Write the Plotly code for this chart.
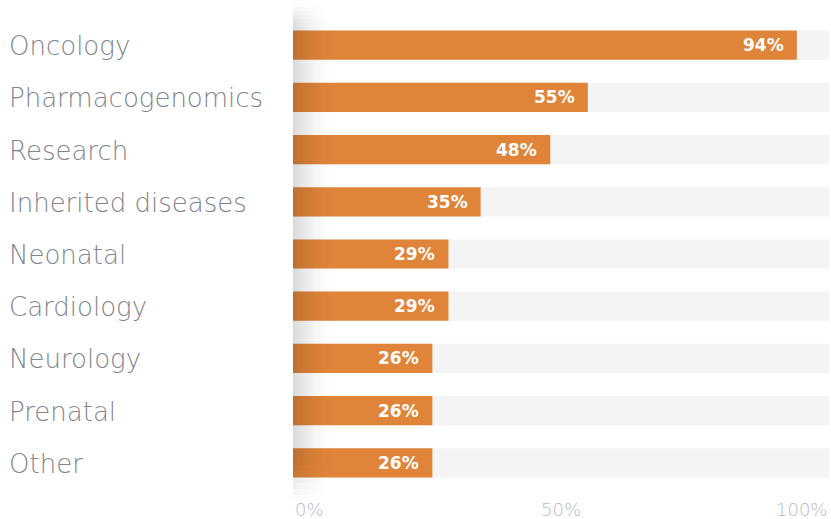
import plotly.graph_objects as go

categories = ["Oncology", "Pharmacogenomics", "Research", "Inherited diseases",
              "Neonatal", "Cardiology", "Neurology", "Prenatal", "Other"]
values = [94, 55, 48, 35, 29, 29, 26, 26, 26]
tick_vals = [0, 50, 100]
tick_text = ["0%", "50%", "100%"]

W, H = 831, 519
x0px, x1px = 293, 829
top_m, bot_m = 19, 30
plot_h = H - top_m - bot_m
bar_color = "#e0843a"
bg_color = "#f4f4f4"
label_color = "#82858e"

fig = go.Figure()
fig.add_trace(go.Bar(y=categories, x=[100] * len(categories), orientation="h",
                     marker=dict(color=bg_color, line_width=0), width=0.56,
                     hoverinfo="skip"))
fig.add_trace(go.Bar(y=categories, x=values, orientation="h",
                     marker=dict(color=bar_color, line_width=0), width=0.56))

ann = []
for c, v in zip(categories, values):
    ann.append(dict(x=v, y=c, xref="x", yref="y", text=f"{v}%", showarrow=False,
                    xanchor="right", xshift=-11,
                    font=dict(family="DejaVu Sans", size=17, color="white", weight="bold")))
    ann.append(dict(x=7 / W, y=c, xref="paper", yref="y", text=c, showarrow=False,
                    xanchor="left", yshift=-1,
                    font=dict(family="DejaVu Sans", size=26, color=label_color, weight=200)))
anchors = {0: "left", 50: "center", 100: "right"}
for tv, tt in zip(tick_vals, tick_text):
    ann.append(dict(x=tv, y=0, xref="x", yref="paper", text=tt, showarrow=False,
                    xanchor=anchors[tv], yanchor="middle", yshift=-20, height=18,
                    font=dict(family="DejaVu Sans", size=18, color="#b9bac0", weight=200)))

# left shadow gradient (x fade to right, y fade at top/bottom)
def py2paper(py):
    return (H - bot_m - py) / plot_h

px_per_unit = (x1px - x0px) / 100.0
shadow_w = 40
nx = 16
y_edges = [3, 7, 11, 15, 19, 23, 27, 465, 471, 477, 483, 489, 495, 501]
def yfac(ym):
    if ym < 27:
        return max(0.0, (ym - 3) / 24)
    if ym > 465:
        return max(0.0, (501 - ym) / 36)
    return 1.0

shapes = []
for i in range(nx):
    xa = i * shadow_w / nx
    xb = (i + 1) * shadow_w / nx
    xm = (xa + xb) / 2
    ax = 0.15 * (1 - xm / shadow_w) ** 1.6
    for j in range(len(y_edges) - 1):
        ya, yb = y_edges[j], y_edges[j + 1]
        a = ax * yfac((ya + yb) / 2)
        if a <= 0.002:
            continue
        shapes.append(dict(type="rect", xref="x", yref="paper",
                           x0=xa / px_per_unit, x1=xb / px_per_unit,
                           y0=py2paper(yb), y1=py2paper(ya),
                           fillcolor=f"rgba(0,0,0,{a:.4f})",
                           line_width=0, layer="above"))

fig.update_layout(
    width=W, height=H, barmode="overlay", showlegend=False,
    paper_bgcolor="white", plot_bgcolor="white",
    margin=dict(l=0, r=0, t=top_m, b=bot_m),
    xaxis=dict(domain=[x0px / W, x1px / W], range=[0, 100], showgrid=False,
               zeroline=False, showticklabels=False, fixedrange=True),
    yaxis=dict(categoryorder="array", categoryarray=categories, autorange="reversed",
               showticklabels=False, showgrid=False, zeroline=False, fixedrange=True),
    annotations=ann, shapes=shapes,
)
fig.write_html("out.html")
